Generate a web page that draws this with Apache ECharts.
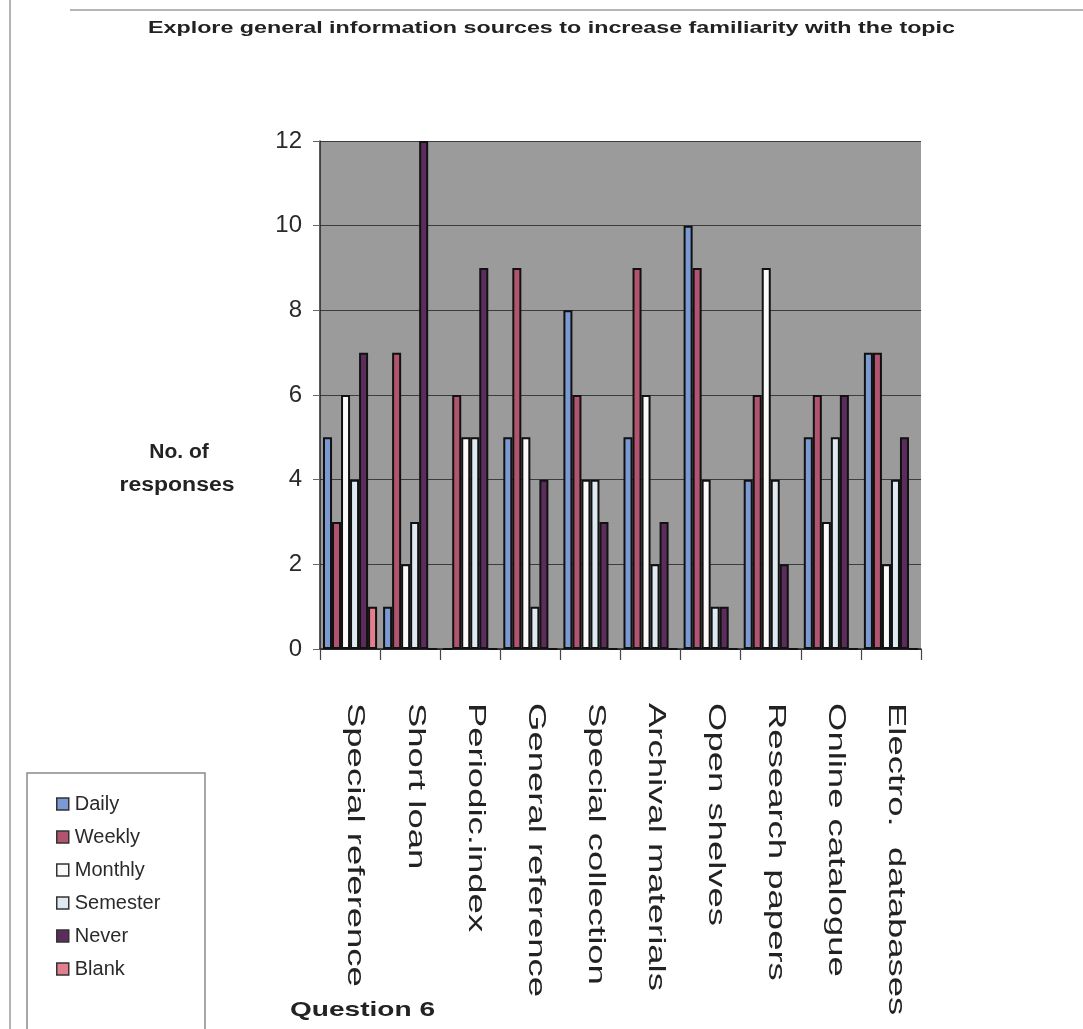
<!DOCTYPE html>
<html>
<head>
<meta charset="utf-8">
<script src="https://cdn.jsdelivr.net/npm/echarts@6/dist/echarts.min.js"></script>
<style>
html,body{margin:0;padding:0;background:#ffffff;}
#chart{width:1083px;height:1029px;}
</style>
</head>
<body>
<div id="chart"></div>
<script>
// ---- data ----
const categories = ['Special reference', 'Short loan', 'Periodic.index', 'General reference',
  'Special collection', 'Archival materials', 'Open shelves', 'Research papers',
  'Online catalogue', 'Electro.  databases'];
const seriesNames = ['Daily', 'Weekly', 'Monthly', 'Semester', 'Never', 'Blank'];
const daily    = [5, 1, 0, 5, 8, 5, 10, 4, 5, 7];
const weekly   = [3, 7, 6, 9, 6, 9, 9, 6, 6, 7];
const monthly  = [6, 2, 5, 5, 4, 6, 4, 9, 3, 2];
const semester = [4, 3, 5, 1, 4, 2, 1, 4, 5, 4];
const never    = [7, 12, 9, 4, 3, 3, 1, 2, 6, 5];
const blank    = [1, 0, 0, 0, 0, 0, 0, 0, 0, 0];
const yMin = 0, yMax = 12, yStep = 2;
const titleText = 'Explore general information sources to increase familiarity with the topic';
const yTitleLines = ['No. of', 'responses'];
const footText = 'Question 6';

// ---- styles ----
const seriesColors = ['#7b9ad3', '#b0546f', '#fafafa', '#dfe9f1', '#5c2c5c', '#e27f8c'];
const values = [daily, weekly, monthly, semester, never, blank];
const FONT = '"Liberation Sans", Arial, sans-serif';

const chart = echarts.init(document.getElementById('chart'), null, {renderer: 'canvas'});

function measure(text, font) {
  const c = document.createElement('canvas').getContext('2d');
  c.font = font;
  return c.measureText(text).width;
}
const titleFont = 'bold 17px ' + FONT;
const titleScale = 807 / measure(titleText, titleFont);
const footFont = 'bold 21px ' + FONT;
const footScale = 145 / measure(footText, footFont);
const yTitleFont = 'bold 20px ' + FONT;
const catFont = '24px ' + FONT;
const catStretch = 1.52;

const baseGraphics = [
  {type: 'line', shape: {x1: 70, y1: 10, x2: 1083, y2: 10}, style: {stroke: '#b5b5b5', lineWidth: 2}},
  {type: 'line', shape: {x1: 10, y1: 0, x2: 10, y2: 1029}, style: {stroke: '#9a9a9a', lineWidth: 1.5}},
  {type: 'text', x: 148, y: 28, scaleX: titleScale,
    style: {text: titleText, font: titleFont, fill: '#222', textAlign: 'left', textVerticalAlign: 'middle'}},
  {type: 'text', x: 179, y: 452, scaleX: 1.05,
    style: {text: yTitleLines[0], font: yTitleFont, fill: '#222', textAlign: 'center', textVerticalAlign: 'middle'}},
  {type: 'text', x: 177, y: 485, scaleX: 1.15,
    style: {text: yTitleLines[1], font: yTitleFont, fill: '#222', textAlign: 'center', textVerticalAlign: 'middle'}},
  {type: 'text', x: 290, y: 1010, scaleX: footScale,
    style: {text: footText, font: footFont, fill: '#222', textAlign: 'left', textVerticalAlign: 'middle'}},
  {type: 'rect', shape: {x: 27, y: 773, width: 178, height: 262},
    style: {fill: 'none', stroke: '#8a8a8a', lineWidth: 1.5}}
];

const option = {
  animation: false,
  backgroundColor: '#ffffff',
  textStyle: {fontFamily: FONT},
  grid: {
    left: 320, right: 162, top: 141, bottom: 380,
    show: true, backgroundColor: '#9b9b9b', borderWidth: 0
  },
  legend: {
    orient: 'vertical',
    left: 51, top: 789,
    itemWidth: 12, itemHeight: 12, itemGap: 13,
    icon: 'rect',
    data: seriesNames,
    textStyle: {fontSize: 20, color: '#2a2a2a', fontFamily: FONT, padding: [0, 0, 0, 1]},
    itemStyle: {borderWidth: 1.5, borderColor: '#333'}
  },
  xAxis: {
    type: 'category',
    data: categories,
    axisLine: {show: true, lineStyle: {color: '#222', width: 1.5}},
    axisTick: {show: true, interval: 0, length: 11, lineStyle: {color: '#444', width: 1.2}},
    axisLabel: {show: false, interval: 0},
    splitLine: {show: false}
  },
  yAxis: {
    type: 'value',
    min: yMin, max: yMax, interval: yStep,
    axisLine: {show: true, lineStyle: {color: '#222', width: 1.5}},
    axisTick: {show: true, length: 7, lineStyle: {color: '#666'}},
    axisLabel: {fontSize: 24, color: '#2a2a2a', margin: 18, fontFamily: FONT},
    splitLine: {show: true, lineStyle: {color: '#3c3c3c', width: 1.2}}
  },
  series: seriesNames.map((name, i) => ({
    name: name,
    type: 'bar',
    data: values[i],
    barGap: '0%',
    barCategoryGap: '10%',
    itemStyle: {color: seriesColors[i], borderColor: '#111', borderWidth: 2}
  })),
  graphic: baseGraphics
};
chart.setOption(option);

// category labels, placed on the category axis scale (stretched like the reference)
const axisY = chart.convertToPixel({yAxisIndex: 0}, yMin);
const catGraphics = categories.map((c, i) => ({
  type: 'text',
  x: chart.convertToPixel({xAxisIndex: 0}, i) + 5,
  y: axisY + 54,
  rotation: -Math.PI / 2,
  scaleX: catStretch,
  style: {text: c, font: catFont, fill: '#222', textAlign: 'left', textVerticalAlign: 'middle'}
}));
chart.setOption({graphic: baseGraphics.concat(catGraphics)});
</script>
</body>
</html>
